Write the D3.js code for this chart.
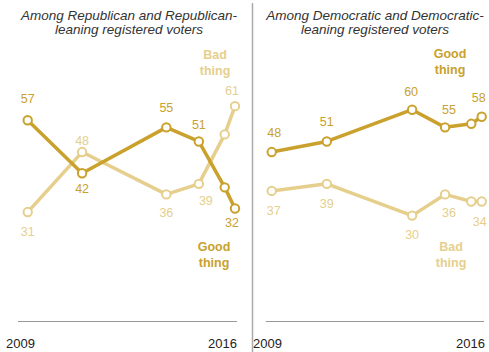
<!DOCTYPE html>
<html><head><meta charset="utf-8">
<script src="https://cdn.jsdelivr.net/npm/d3@7"></script>
<style>
body{margin:0;background:#fff;}
svg{display:block;font-family:"Liberation Sans",Arial,sans-serif;}
</style></head>
<body><svg id="c" width="489" height="352"></svg>
<script>
const surveyDates = ["2009-04-15","2011-02-15","2013-12-20","2015-01-25","2015-12-10","2016-04-15"];
const repGood = [57,42,55,51,38,32];
const repBad  = [31,48,36,39,53,61];
const demGood = [48,51,60,55,56,58];
const demBad  = [37,39,30,36,34,34];
const yearTicks = ["2009","2016"];
const panelTitles = [
  ["Among Republican and Republican-","leaning registered voters"],
  ["Among Democratic and Democratic-","leaning registered voters"]
];
const seriesNames = ["Good thing","Bad thing"];
const labelledIdx = [0,1,2,3,5];

const GOOD = "#c9a12c", BAD = "#e6cf8c";
const parse = d3.timeParse("%Y-%m-%d");
const dates = surveyDates.map(parse);
const svg = d3.select("#c");
const y = d3.scaleLinear().domain([0,60]).range([321.5,109.7]);

// label offsets [dx, dy] per point (style/layout only)
const offs = {
  repGood: [[0,-17],[0,20],[0,-15],[0,-12],null,[-3,18]],
  repBad:  [[0,24],[0,-7.5],[0,23],[7,21.5],null,[-3,-11.5]],
  demGood: [[2.5,-15],[0,-15],[-1,-14],[4,-13.5],null,[-3,-15]],
  demBad:  [[2,24],[0,24],[0,23],[4,23],null,[-2,25]]
};

const panels = [
  {range:[27.7,235], base:[18,237], titleX:129, good:repGood, bad:repBad, og:offs.repGood, ob:offs.repBad,
   goodLab:[214,251], badLab:[215,59], tickX:[6,237]},
  {range:[271.7,481.7], base:[265.7,484], titleX:375, good:demGood, bad:demBad, og:offs.demGood, ob:offs.demBad,
   goodLab:[450,58], badLab:[451,251], tickX:[253,485]}
];

// divider
svg.append("line").attr("x1",252.5).attr("x2",252.5).attr("y1",3).attr("y2",352)
  .attr("stroke","#aaa").attr("stroke-width",1.5);

panels.forEach((p,pi)=>{
  const x = d3.scaleTime().domain(d3.extent(dates)).range(p.range);
  const g = svg.append("g");
  // title
  panelTitles[pi].forEach((t,i)=>{
    g.append("text").attr("x",p.titleX).attr("y",19.5+i*14.5).attr("text-anchor","middle")
      .attr("font-style","italic").attr("font-size",13.5).attr("fill","#333").text(t);
  });
  // baseline
  g.append("line").attr("x1",p.base[0]).attr("x2",p.base[1]).attr("y1",y(0)).attr("y2",y(0))
    .attr("stroke","#999").attr("stroke-width",1.2);
  // ticks
  yearTicks.forEach((t,i)=>{
    g.append("text").attr("x",p.tickX[i]).attr("y",348).attr("font-size",13)
      .attr("text-anchor",i===0?"start":"end").attr("fill","#222").text(t);
  });
  const line = d3.line().x((d,i)=>x(dates[i])).y(d=>y(d));
  const series = [
    {vals:p.bad, col:BAD, off:p.ob, lab:p.badLab, name:seriesNames[1]},
    {vals:p.good, col:GOOD, off:p.og, lab:p.goodLab, name:seriesNames[0]}
  ];
  series.forEach(s=>{
    g.append("path").datum(s.vals).attr("d",line).attr("fill","none")
      .attr("stroke",s.col).attr("stroke-width",3.5).attr("stroke-linejoin","round");
    g.selectAll(null).data(s.vals).join("circle")
      .attr("cx",(d,i)=>x(dates[i])).attr("cy",d=>y(d)).attr("r",4.2)
      .attr("fill","#fff").attr("stroke",s.col).attr("stroke-width",2);
    labelledIdx.forEach(i=>{
      const o = s.off[i];
      g.append("text").attr("x",x(dates[i])+o[0]).attr("y",y(s.vals[i])+o[1])
        .attr("text-anchor","middle").attr("font-size",12.5).attr("fill",s.col).text(s.vals[i]);
    });
    const words = s.name.split(" ");
    words.forEach((w,i)=>{
      g.append("text").attr("x",s.lab[0]).attr("y",s.lab[1]+i*16).attr("text-anchor","middle")
        .attr("font-weight","bold").attr("font-size",12.5).attr("fill",s.col).text(w);
    });
  });
});
</script></body></html>
